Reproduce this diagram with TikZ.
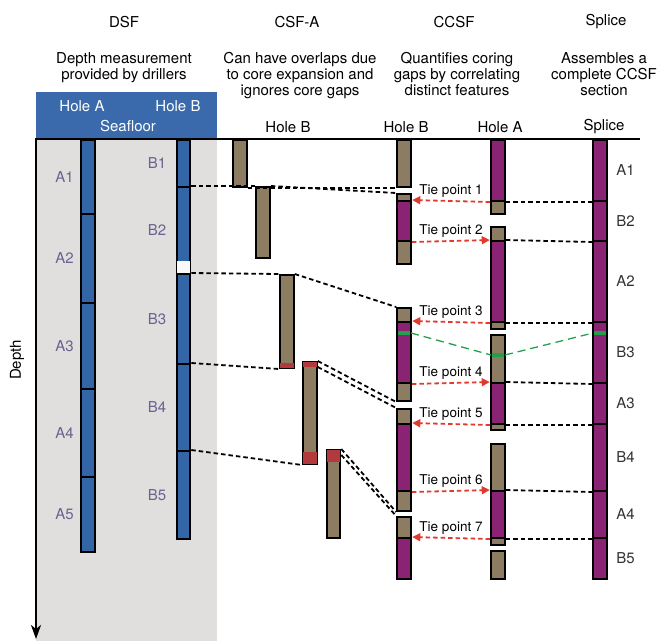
\documentclass[tikz,border=0pt]{standalone}
\usepackage{fontspec}
\setmainfont{TeX Gyre Heros}
\usetikzlibrary{positioning,arrows.meta}

\definecolor{dsfblue}{HTML}{3366A6}
\definecolor{headblue}{HTML}{3A6AAB}
\definecolor{panelgray}{HTML}{E0DFDD}
\definecolor{corebrown}{HTML}{8C7D62}
\definecolor{corepurple}{HTML}{8B2374}
\definecolor{ovlred}{HTML}{B23A3C}
\definecolor{tiered}{HTML}{E03A2E}
\definecolor{tiegreen}{HTML}{22A04B}
\definecolor{labelgray}{HTML}{6A6390}

\begin{document}
\begin{tikzpicture}[x=1pt, y=-1pt,
  font=\fontsize{15}{16}\selectfont,
  core/.style={draw=black, line width=2pt, minimum width=13.6pt, inner sep=0pt, anchor=north},
  dsfcore/.style={core, fill=dsfblue},
  browncore/.style={core, fill=corebrown},
  purplecore/.style={core, fill=corepurple},
  corelabel/.style={text=labelgray},
  splicelabel/.style={text=black!80},
  desc/.style={align=center, anchor=north, inner sep=0pt},
  link/.style={black, line width=1.8pt, dash pattern=on 4.5pt off 3pt},
  tie/.style={tiered, line width=1.8pt, dash pattern=on 4.5pt off 3pt, -{Triangle[length=8pt,width=8pt]}, shorten >=0.5pt},
  tielabel/.style={midway, above=-1pt, font=\fontsize{13.5}{14}\selectfont, text=black},
  greenline/.style={tiegreen, line width=1.3pt, dash pattern=on 8pt off 5pt},
  greentick/.style={tiegreen, line width=3.5pt}]
\useasboundingbox (0,0) rectangle (660,641);

% Column titles and what they mean
\node (dsf) at (124,22) {DSF};
\node (csf) at (297,22) {CSF-A};
\node (ccsf) at (454,22) {CCSF};
\node (spl) at (606,22) {Splice};
\node[desc] (dsfd) at (124,52) {Depth measurement\\provided by drillers};
\node[desc] (csfd) at (300,52) {Can have overlaps due\\to core expansion and\\ignores core gaps};
\node[desc] (ccsfd) at (457,52) {Quantifies coring\\gaps by correlating\\distinct features};
\node[desc] (spld) at (604,52) {Assembles a\\complete CCSF\\section};

% Drilled interval, seafloor box and depth axis
\fill[panelgray] (36,138) rectangle (217,641);
\fill[headblue] (36,92) rectangle (217,138);
\node[text=white] (hA) at (82,106) {Hole A};
\node[text=white] (hB) at (178,106) {Hole B};
\node[text=white] (sea) at (128,126) {Seafloor};
\draw[line width=2.4pt] (36,139) -- (640,139);
\draw[line width=2.4pt, -{Stealth[length=14pt,width=10pt,inset=4pt]}] (36,138) -- (36,639);
\node[rotate=90] (depth) at (17,360) {Depth};

% Column headings on the seafloor line
\node (csfB) at (288,127) {Hole B};
\node (ccsfB) at (406,127) {Hole B};
\node (ccsfA) at (500,127) {Hole A};
\node (splT) at (604,127) {Splice};

% DSF: hole A
\node[dsfcore, minimum height=74pt] (dA1) at (88,139) {};
\node[dsfcore, minimum height=89pt] (dA2) at (88,213) {};
\node[dsfcore, minimum height=86pt] (dA3) at (88,302) {};
\node[dsfcore, minimum height=88pt] (dA4) at (88,388) {};
\node[dsfcore, minimum height=75pt] (dA5) at (88,476) {};
\foreach \c in {1,...,5}
  \node[corelabel, left=3pt of dA\c] (lA\c) {A\c};

% DSF: hole B
\node[dsfcore, minimum height=47pt] (dB1) at (183.5,139) {};
\node[dsfcore, minimum height=87pt] (dB2) at (183.5,186) {};
\fill[white!80!panelgray] ([xshift=1pt,yshift=1pt]dB2.south west) rectangle ([xshift=-1pt,yshift=14pt]dB2.south east);
\node[dsfcore, minimum height=90pt] (dB3) at (183.5,273) {};
\node[dsfcore, minimum height=87pt] (dB4) at (183.5,363) {};
\node[dsfcore, minimum height=88pt] (dB5) at (183.5,450) {};
\foreach \c in {1,...,5}
  \node[corelabel, left=6pt of dB\c] (lB\c) {B\c};

% CSF-A: expanded cores of hole B, red = overlap
\node[browncore, minimum height=47pt] (sB1) at (240,139) {};
\node[browncore, minimum height=71pt] (sB2) at (263,186) {};
\node[browncore, minimum height=93pt] (sB3) at (287,274) {};
\fill[ovlred] ([xshift=1pt,yshift=1pt]sB3.south west) rectangle ([xshift=-1pt,yshift=6pt]sB3.south east);
\node[browncore, minimum height=102pt] (sB4) at (310,361) {};
\fill[ovlred] ([xshift=1pt,yshift=-1pt]sB4.north west) rectangle ([xshift=-1pt,yshift=-6pt]sB4.north east);
\fill[ovlred] ([xshift=1pt,yshift=1pt]sB4.south west) rectangle ([xshift=-1pt,yshift=13pt]sB4.south east);
\node[browncore, minimum height=88pt] (sB5) at (333.5,449) {};
\fill[ovlred] ([xshift=1pt,yshift=-1pt]sB5.north west) rectangle ([xshift=-1pt,yshift=-13pt]sB5.north east);

% CCSF: hole B
\node[browncore, minimum height=47pt] (cB1) at (404,139) {};
\node[browncore, minimum height=70pt] (cB2) at (404,193) {};
\node[purplecore, minimum height=40pt] (cB2p) at (404,200) {};
\node[browncore, minimum height=93pt] (cB3) at (404,307) {};
\node[purplecore, minimum height=61pt] (cB3p) at (404,321) {};
\node[browncore, minimum height=102pt] (cB4) at (404,408) {};
\node[purplecore, minimum height=67pt] (cB4p) at (404,423) {};
\node[browncore, minimum height=62pt] (cB5) at (404,516) {};
\node[purplecore, minimum height=41pt] (cB5p) at (404,537) {};

% CCSF: hole A
\node[browncore, minimum height=74pt] (cA1) at (498,139) {};
\node[purplecore, minimum height=61pt] (cA1p) at (498,139) {};
\node[browncore, minimum height=102pt] (cA2) at (498,226) {};
\node[purplecore, minimum height=81pt] (cA2p) at (498,240) {};
\node[browncore, minimum height=95pt] (cA3) at (498,334) {};
\node[purplecore, minimum height=41pt] (cA3p) at (498,382) {};
\node[browncore, minimum height=101pt] (cA4) at (498,443) {};
\node[purplecore, minimum height=47pt] (cA4p) at (498,490) {};
\node[browncore, minimum height=28pt] (cA5) at (498,550) {};

% Splice
\node[purplecore, minimum height=61pt] (spA1) at (600,139) {};
\node[purplecore, minimum height=40pt] (spB2) at (600,200) {};
\node[purplecore, minimum height=81pt] (spA2) at (600,240) {};
\node[purplecore, minimum height=61pt] (spB3) at (600,321) {};
\node[purplecore, minimum height=41pt] (spA3) at (600,382) {};
\node[purplecore, minimum height=67pt] (spB4) at (600,423) {};
\node[purplecore, minimum height=47pt] (spA4) at (600,490) {};
\node[purplecore, minimum height=41pt] (spB5) at (600,537) {};
\foreach \c in {A1,B2,A2,B3,A3,B4,A4,B5}
  \node[splicelabel, right=5pt of sp\c] (l\c) {\c};

% Hole B from DSF to CSF-A to CCSF
\draw[link] (dB2.north east) -- (sB2.north west);
\draw[link] (sB1.south east) -- (cB1.south west);
\draw[link] (sB2.north east) -- (cB2.north west);
\draw[link] (dB3.north east) -- (sB3.north west);
\draw[link] (sB3.north east) -- (cB3.north west);
\draw[link] (dB4.north east) -- (sB3.south west);
\draw[link] (sB4.north east) -- (cB3.south west);
\draw[link] ([yshift=-6pt]sB4.north east) -- (cB4.north west);
\draw[link] (dB5.north east) -- (sB4.south west);
\draw[link] (sB5.north east) -- (cB4.south west);
\draw[link] ([yshift=-6pt]sB5.north east) -- (cB5.north west);

% Hole A to splice
\draw[link] (cA1p.south east) -- (spA1.south west);
\draw[link] (cA2p.north east) -- (spB2.south west);
\draw[link] (cA2p.south east) -- (spA2.south west);
\draw[link] (cA3p.north east) -- (spB3.south west);
\draw[link] (cA3p.south east) -- (spA3.south west);
\draw[link] (cA4p.north east) -- (spB4.south west);
\draw[link] (cA4p.south east) -- (spA4.south west);

% Tie points
\draw[tie] (cA1p.south west) -- node[tielabel] (t1) {Tie point 1} (cB2p.north east);
\draw[tie] (cB2p.south east) -- node[tielabel] (t2) {Tie point 2} (cA2p.north west);
\draw[tie] (cA2p.south west) -- node[tielabel] (t3) {Tie point 3} (cB3p.north east);
\draw[tie] (cB3p.south east) -- node[tielabel] (t4) {Tie point 4} (cA3p.north west);
\draw[tie] (cA3p.south west) -- node[tielabel] (t5) {Tie point 5} (cB4p.north east);
\draw[tie] (cB4p.south east) -- node[tielabel] (t6) {Tie point 6} (cA4p.north west);
\draw[tie] (cA4p.south west) -- node[tielabel] (t7) {Tie point 7} (cB5p.north east);

% Distinct feature matched across holes
\coordinate (gB) at (404,333);
\coordinate (gA) at (498,355);
\coordinate (gS) at (600,333);
\draw[greenline] ([xshift=7pt]gB) -- ([xshift=-7pt]gA);
\draw[greenline] ([xshift=7pt]gA) -- ([xshift=-7pt]gS);
\foreach \g in {gB,gA,gS}
  \draw[greentick] ([xshift=-6pt]\g) -- ([xshift=6pt]\g);
\end{tikzpicture}
\end{document}
